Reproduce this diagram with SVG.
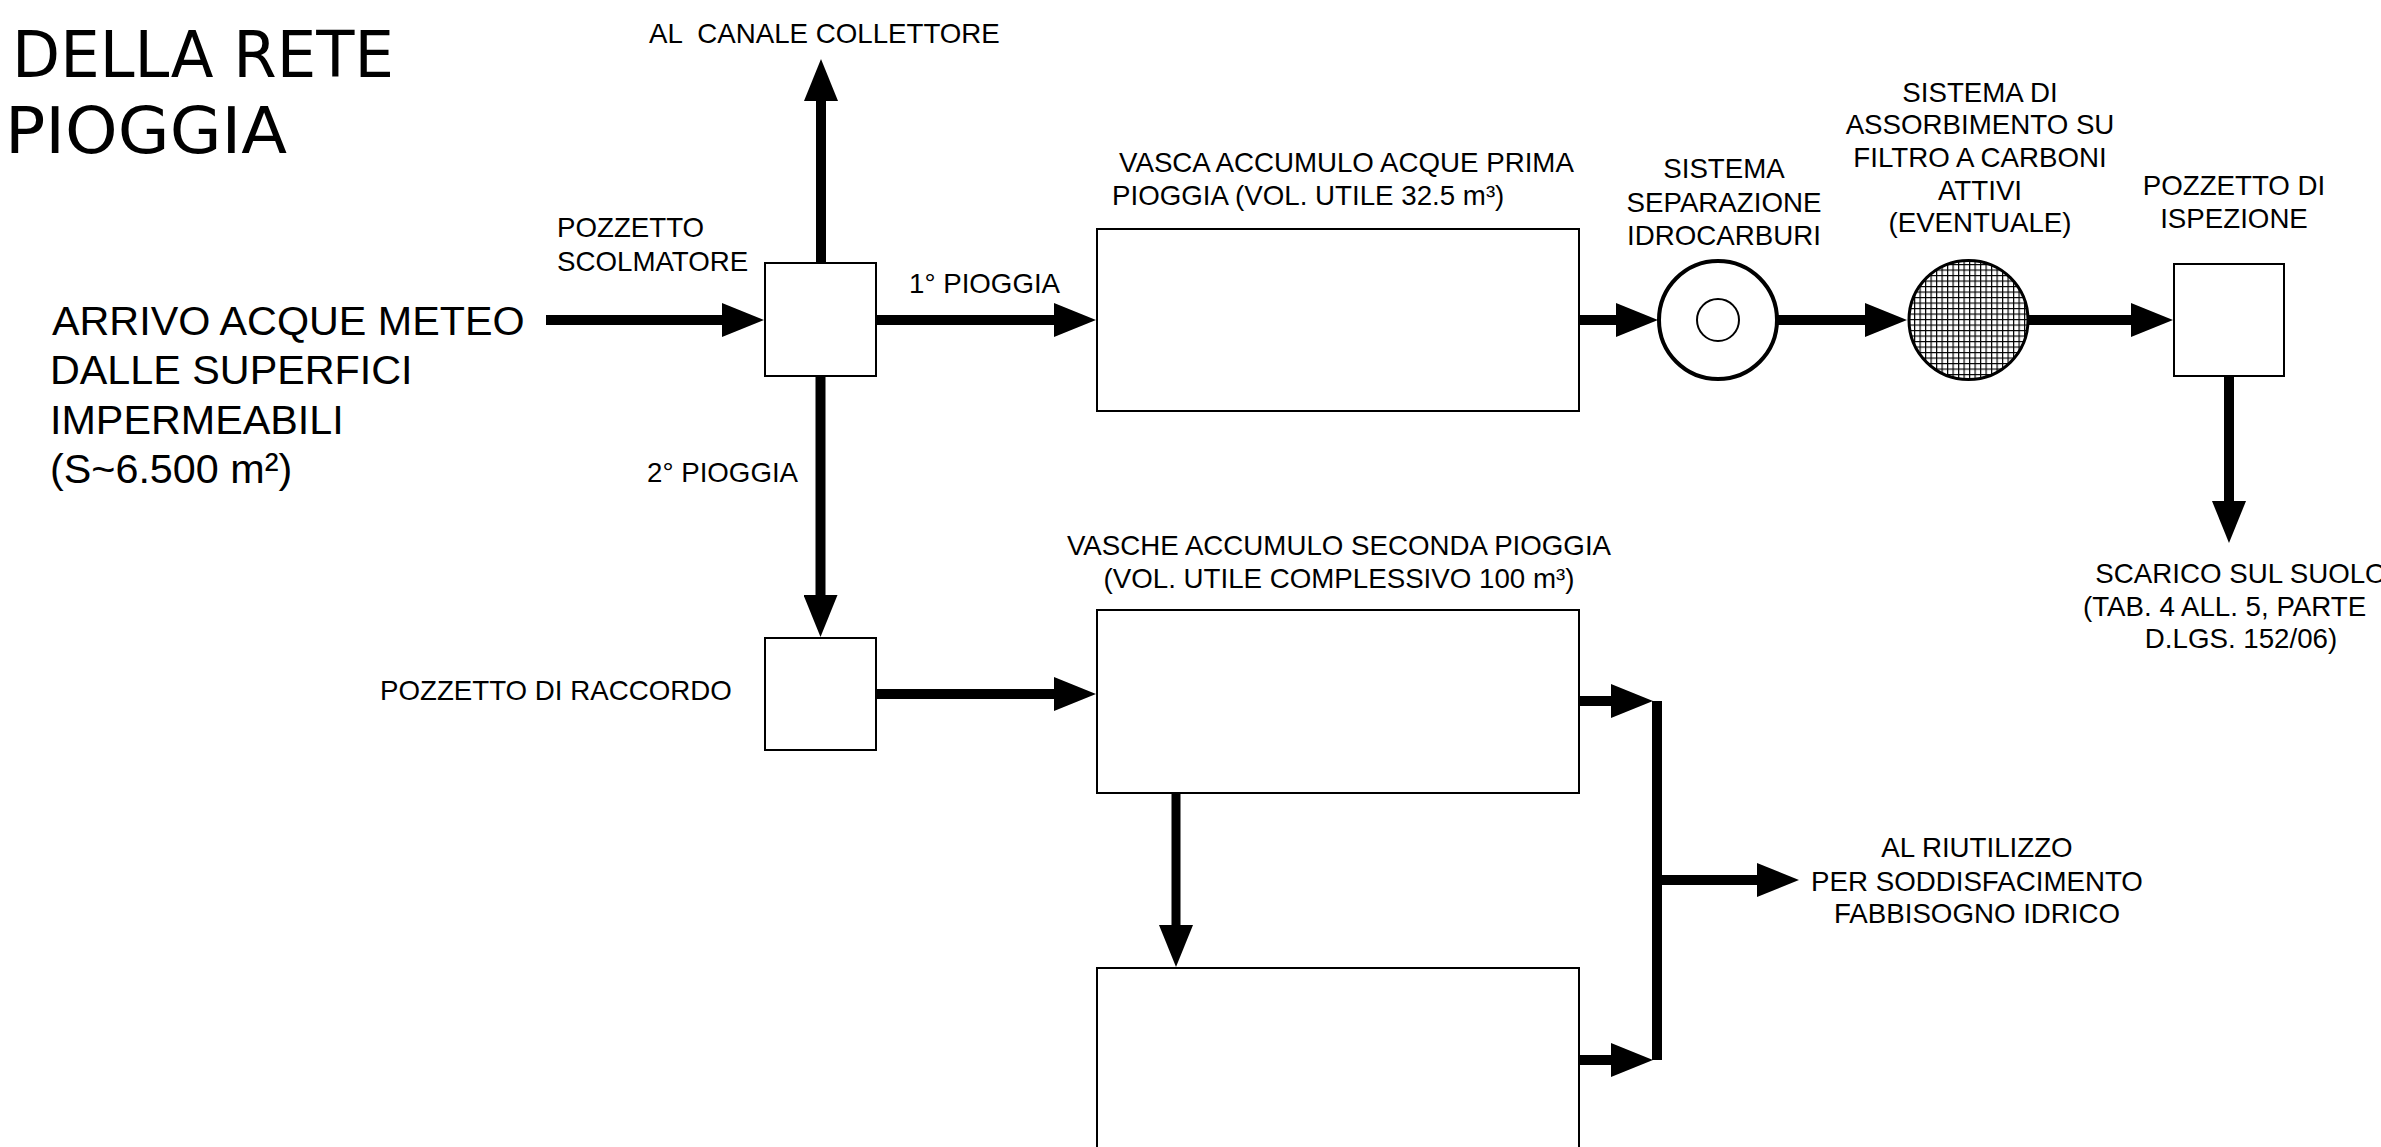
<svg xmlns="http://www.w3.org/2000/svg" width="2381" height="1147" viewBox="0 0 2381 1147">
<style>
.t{font-family:"Liberation Sans",Arial,sans-serif;font-size:27.7px;fill:#000}
.big{font-family:"Liberation Sans",Arial,sans-serif;font-size:41.3px;fill:#000}
.title{font-family:"DejaVu Sans",sans-serif;font-size:64px;fill:#000}
.m{text-anchor:middle}
.box{fill:#fff;stroke:#000;stroke-width:2}
.c{fill:none;stroke:#000;stroke-width:10;marker-end:url(#ah)}
.cn{fill:none;stroke:#000;stroke-width:10}
</style>
<defs>
<marker id="ah" markerUnits="userSpaceOnUse" markerWidth="43" markerHeight="34" viewBox="0 -17 43 34" refX="1" refY="0" orient="auto">
<path d="M0,-17 L42,0 L0,17 Z" fill="#000"/>
</marker>
<pattern id="grid" patternUnits="userSpaceOnUse" width="5.5" height="5.5">
<rect width="5.5" height="5.5" fill="#fff"/>
<path d="M0,0.6 H5.5 M0.6,0 V5.5" stroke="#000" stroke-width="1.2"/>
</pattern>
</defs>
<rect width="2381" height="1147" fill="#fff"/>

<g id="title">
<text class="title" x="12" y="77" textLength="382" lengthAdjust="spacingAndGlyphs">DELLA RETE</text>
<text class="title" x="5" y="153" textLength="282" lengthAdjust="spacingAndGlyphs">PIOGGIA</text>
</g>

<g id="connectors">
<path class="c" d="M546,320 H723"/>
<path class="c" d="M821,263 V100"/>
<path class="c" d="M876,320 H1055"/>
<path class="c" d="M1579,320 H1617"/>
<path class="c" d="M1777,320 H1866"/>
<path class="c" d="M2029,320 H2132"/>
<path class="c" d="M2229,376 V502"/>
<path class="c" d="M820.5,376 V596"/>
<path class="c" d="M876,694 H1055"/>
<path class="c" d="M1176,793 V926" style="stroke-width:9"/>
<path class="c" d="M1579,701 H1612"/>
<path class="c" d="M1579,1060 H1612"/>
<path class="cn" d="M1657,701 V1060"/>
<path class="c" d="M1662,880 H1758"/>
</g>

<g id="arrivo">
<text class="big" x="52" y="335">ARRIVO ACQUE METEO</text>
<text class="big" x="50" y="384">DALLE SUPERFICI</text>
<text class="big" x="50" y="434">IMPERMEABILI</text>
<text class="big" x="50" y="483">(S~6.500 m²)</text>
</g>

<g id="canale">
<text class="t" x="649" y="43" xml:space="preserve">AL  CANALE COLLETTORE</text>
</g>

<g id="scolmatore">
<rect class="box" x="765" y="263" width="111" height="113"/>
<text class="t" x="557" y="237">POZZETTO</text>
<text class="t" x="557" y="271">SCOLMATORE</text>
</g>

<g id="label-1pioggia">
<text class="t" x="909" y="293">1° PIOGGIA</text>
</g>
<g id="label-2pioggia">
<text class="t" x="647" y="482">2° PIOGGIA</text>
</g>

<g id="vasca-prima">
<rect class="box" x="1097" y="229" width="482" height="182"/>
<text class="t" x="1119" y="172">VASCA ACCUMULO ACQUE PRIMA</text>
<text class="t" x="1112" y="205">PIOGGIA (VOL. UTILE 32.5 m³)</text>
</g>

<g id="separatore">
<circle cx="1718" cy="320" r="59" fill="#fff" stroke="#000" stroke-width="4"/>
<circle cx="1718" cy="320" r="21" fill="#fff" stroke="#000" stroke-width="2"/>
<text class="t m" x="1724" y="178">SISTEMA</text>
<text class="t m" x="1724" y="212">SEPARAZIONE</text>
<text class="t m" x="1724" y="245">IDROCARBURI</text>
</g>

<g id="filtro">
<circle cx="1968.5" cy="320" r="59.5" fill="url(#grid)" stroke="#000" stroke-width="3"/>
<text class="t m" x="1980" y="102">SISTEMA DI</text>
<text class="t m" x="1980" y="134">ASSORBIMENTO SU</text>
<text class="t m" x="1980" y="167">FILTRO A CARBONI</text>
<text class="t m" x="1980" y="200">ATTIVI</text>
<text class="t m" x="1980" y="232">(EVENTUALE)</text>
</g>

<g id="ispezione">
<rect class="box" x="2174" y="264" width="110" height="112"/>
<text class="t m" x="2234" y="195">POZZETTO DI</text>
<text class="t m" x="2234" y="228">ISPEZIONE</text>
</g>

<g id="scarico">
<text class="t m" x="2241" y="583">SCARICO SUL SUOLO</text>
<text class="t" x="2083" y="616">(TAB. 4 ALL. 5, PARTE</text>
<text class="t m" x="2241" y="648">D.LGS. 152/06)</text>
</g>

<g id="raccordo">
<rect class="box" x="765" y="638" width="111" height="112"/>
<text class="t" x="380" y="700">POZZETTO DI RACCORDO</text>
</g>

<g id="vasche-seconda">
<rect class="box" x="1097" y="610" width="482" height="183"/>
<text class="t m" x="1339" y="555">VASCHE ACCUMULO SECONDA PIOGGIA</text>
<text class="t m" x="1339" y="588">(VOL. UTILE COMPLESSIVO 100 m³)</text>
</g>

<g id="vasche-seconda-2">
<rect class="box" x="1097" y="968" width="482" height="200"/>
</g>

<g id="riutilizzo">
<text class="t m" x="1977" y="857">AL RIUTILIZZO</text>
<text class="t m" x="1977" y="891">PER SODDISFACIMENTO</text>
<text class="t m" x="1977" y="923">FABBISOGNO IDRICO</text>
</g>
</svg>
